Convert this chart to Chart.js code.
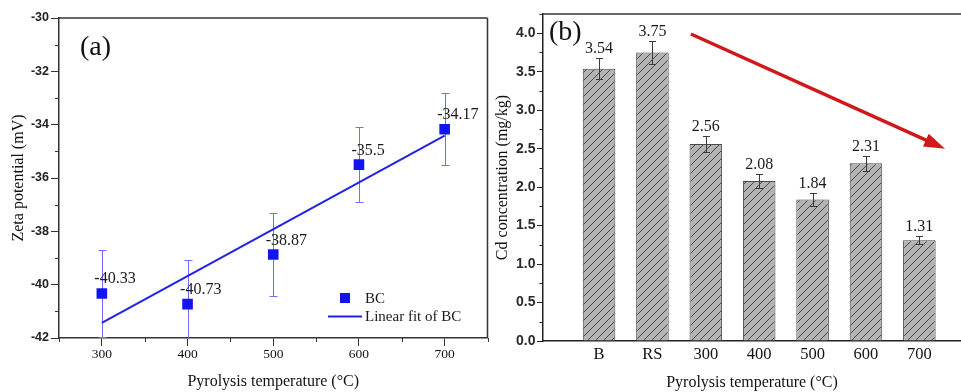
<!DOCTYPE html>
<html>
<head>
<meta charset="utf-8">
<script src="https://cdn.jsdelivr.net/npm/chart.js@4/dist/chart.umd.min.js"></script>
<style>
  html, body { margin: 0; padding: 0; background: #fff; overflow: hidden; }
  #wrap { position: relative; width: 961px; height: 392px; }
  canvas { position: absolute; top: 0; }
  #zeta { left: 0; }
  #cd { left: 480px; }
</style>
</head>
<body>
<div id="wrap">
  <canvas id="zeta" width="495" height="392"></canvas>
  <canvas id="cd" width="481" height="392"></canvas>
</div>
<script>
// ---- Panel (a): zeta potential of biochar (BC) against pyrolysis temperature ----
const temps = [300, 400, 500, 600, 700];
const zeta = [-40.33, -40.73, -38.87, -35.5, -34.17];
const zetaErr = [1.62, 1.64, 1.56, 1.40, 1.35];
const fitTemps = [300, 700];
const fitZeta = [-41.43, -34.41];
const zetaXTicks = [300, 400, 500, 600, 700];
const zetaYTicks = [-42, -40, -38, -36, -34, -32, -30];

// ---- Panel (b): Cd concentration for each treatment ----
const groups = ['B', 'RS', '300', '400', '500', '600', '700'];
const cd = [3.54, 3.75, 2.56, 2.08, 1.84, 2.31, 1.31];
const cdErr = [0.14, 0.15, 0.10, 0.085, 0.08, 0.095, 0.055];
const cdYTicks = [0, 0.5, 1, 1.5, 2, 2.5, 3, 3.5, 4];
// decreasing-trend arrow, in (group index, concentration) units
const trendFrom = [1.72, 3.99];
const trendTo = [6.48, 2.50];

const SERIF = '"Liberation Serif", "Times New Roman", serif';
const SANS = '"Liberation Sans", Arial, sans-serif';

// short minor tick marks between the labelled ones
const minorTicks = {
  id: 'minorTicks',
  afterDraw(chart, args, o) {
    const ctx = chart.ctx;
    ctx.save();
    ctx.strokeStyle = o.color;
    ctx.lineWidth = 1;
    for (const id of Object.keys(o.axes || {})) {
      const sc = chart.scales[id];
      const { step, len } = o.axes[id];
      const n = Math.round((sc.max - sc.min) / step);
      for (let i = 0; i <= n; i++) {
        const v = sc.min + i * step;
        if (sc.ticks.some(t => Math.abs(t.value - v) < step / 10)) continue;
        const p = Math.round(sc.getPixelForValue(v)) + 0.5;
        ctx.beginPath();
        if (sc.isHorizontal()) { ctx.moveTo(p, sc.top); ctx.lineTo(p, sc.top + len); }
        else { ctx.moveTo(sc.right, p); ctx.lineTo(sc.right - len, p); }
        ctx.stroke();
      }
    }
    ctx.restore();
  }
};

function drawErrors(chart, o) {
  const meta = chart.getDatasetMeta(o.dataset);
  const ys = chart.scales[meta.yAxisID];
  const ca = chart.chartArea;
  const ctx = chart.ctx;
  ctx.save();
  ctx.beginPath();
  ctx.rect(ca.left, ca.top, ca.right - ca.left, ca.bottom - ca.top);
  ctx.clip();
  ctx.strokeStyle = o.color;
  ctx.lineWidth = o.width;
  meta.data.forEach((el, i) => {
    const d = chart.data.datasets[o.dataset].data[i];
    const val = typeof d === 'object' ? d.y : d;
    const x = Math.round(el.x) + 0.5;
    const top = Math.round(ys.getPixelForValue(val + o.errors[i])) + 0.5;
    const bot = Math.round(ys.getPixelForValue(val - o.errors[i])) + 0.5;
    ctx.beginPath();
    ctx.moveTo(x, top); ctx.lineTo(x, bot);
    ctx.moveTo(x - o.cap, top); ctx.lineTo(x + o.cap, top);
    ctx.moveTo(x - o.cap, bot); ctx.lineTo(x + o.cap, bot);
    ctx.stroke();
  });
  ctx.restore();
}

const errorBars = {
  id: 'errorBars',
  beforeDatasetsDraw(chart, a, o) { if (o.layer === 'below') drawErrors(chart, o); },
  afterDatasetsDraw(chart, a, o) { if (o.layer !== 'below') drawErrors(chart, o); }
};

// value text next to each mark
const valueLabels = {
  id: 'valueLabels',
  afterDatasetsDraw(chart, a, o) {
    const meta = chart.getDatasetMeta(o.dataset);
    const ys = chart.scales[meta.yAxisID];
    const ctx = chart.ctx;
    ctx.save();
    ctx.font = o.font;
    ctx.fillStyle = o.color;
    ctx.textAlign = o.align;
    ctx.textBaseline = 'alphabetic';
    meta.data.forEach((el, i) => {
      const d = chart.data.datasets[o.dataset].data[i];
      const val = typeof d === 'object' ? d.y : d;
      const anchorY = o.errors ? ys.getPixelForValue(val + o.errors[i]) : el.y;
      ctx.fillText(o.format(val), el.x + o.dx, anchorY + o.dy);
    });
    ctx.restore();
  }
};

// closing lines of the plot frame
const frame = {
  id: 'frame',
  afterDraw(chart, a, o) {
    const { left, right, top, bottom } = chart.chartArea;
    const ctx = chart.ctx;
    ctx.save();
    ctx.strokeStyle = o.color;
    ctx.lineWidth = o.width;
    ctx.beginPath();
    if (o.sides.includes('top')) { ctx.moveTo(left, top); ctx.lineTo(right, top); }
    if (o.sides.includes('right')) { ctx.moveTo(right, top); ctx.lineTo(right, bottom); }
    ctx.stroke();
    ctx.restore();
  }
};

// panel letter
const panelTag = {
  id: 'panelTag',
  afterDraw(chart, a, o) {
    const ctx = chart.ctx;
    ctx.save();
    ctx.font = o.font;
    ctx.fillStyle = '#111';
    ctx.textAlign = 'left';
    ctx.textBaseline = 'middle';
    ctx.fillText(o.text, chart.chartArea.left + o.dx, chart.chartArea.top + o.dy);
    ctx.restore();
  }
};

// legend box inside the plot of panel (a)
const insetLegend = {
  id: 'insetLegend',
  afterDraw(chart, a, o) {
    const ctx = chart.ctx;
    const x0 = chart.chartArea.left + o.dx;
    let y = chart.chartArea.top + o.dy;
    ctx.save();
    ctx.font = o.font;
    ctx.textAlign = 'left';
    ctx.textBaseline = 'middle';
    chart.data.datasets.forEach(ds => {
      if (ds.showLine) {
        ctx.strokeStyle = ds.borderColor;
        ctx.lineWidth = ds.borderWidth;
        ctx.beginPath();
        ctx.moveTo(x0 - 17, y); ctx.lineTo(x0 + 17, y);
        ctx.stroke();
      } else {
        ctx.fillStyle = ds.backgroundColor;
        ctx.fillRect(x0 - 5, y - 5, 10, 10);
      }
      ctx.fillStyle = '#1a1a1a';
      ctx.fillText(ds.label, x0 + o.textGap, y + 1);
      y += o.rowHeight;
    });
    ctx.restore();
  }
};

// red arrow showing the decreasing trend
const trendArrow = {
  id: 'trendArrow',
  afterDatasetsDraw(chart, a, o) {
    const xs = chart.scales.x, ys = chart.scales.y;
    const x1 = xs.getPixelForValue(o.from[0]), y1 = ys.getPixelForValue(o.from[1]);
    const x2 = xs.getPixelForValue(o.to[0]), y2 = ys.getPixelForValue(o.to[1]);
    const ang = Math.atan2(y2 - y1, x2 - x1);
    const c = Math.cos(ang), s = Math.sin(ang);
    const bx = x2 - o.head * c, by = y2 - o.head * s;
    const hw = o.headWidth / 2;
    const ctx = chart.ctx;
    ctx.save();
    ctx.strokeStyle = o.color;
    ctx.fillStyle = o.color;
    ctx.lineWidth = o.width;
    ctx.beginPath();
    ctx.moveTo(x1, y1);
    ctx.lineTo(bx + 2 * c, by + 2 * s);
    ctx.stroke();
    ctx.beginPath();
    ctx.moveTo(x2, y2);
    ctx.lineTo(bx + hw * s, by - hw * c);
    ctx.lineTo(bx - hw * s, by + hw * c);
    ctx.closePath();
    ctx.fill();
    ctx.restore();
  }
};

// ---------------- Panel (a) ----------------
new Chart(document.getElementById('zeta'), {
  type: 'scatter',
  data: {
    datasets: [
      {
        label: 'BC',
        data: temps.map((t, i) => ({ x: t, y: zeta[i] })),
        pointStyle: 'rect',
        pointRadius: 7.5,
        backgroundColor: '#1414ee',
        borderColor: '#1414ee',
        borderWidth: 0
      },
      {
        label: 'Linear fit of BC',
        data: fitTemps.map((t, i) => ({ x: t, y: fitZeta[i] })),
        showLine: true,
        pointRadius: 0,
        borderColor: '#2222e6',
        backgroundColor: '#2222e6',
        borderWidth: 2
      }
    ]
  },
  options: {
    responsive: false,
    animation: false,
    devicePixelRatio: 1,
    events: [],
    layout: { padding: { top: 18, right: 6, left: 0, bottom: 0 } },
    scales: {
      x: {
        type: 'linear', min: 250, max: 750,
        afterBuildTicks: s => { s.ticks = zetaXTicks.map(v => ({ value: v })); },
        afterFit: s => { s.height = 54; s.paddingLeft = 0; s.paddingRight = 0; },
        grid: { drawOnChartArea: false, tickLength: 8, color: '#333', tickColor: '#333' },
        border: { color: '#333', width: 1.5 },
        ticks: { font: { family: SERIF, size: 13.5 }, color: '#111', padding: 0, maxRotation: 0, autoSkip: false,
                 callback: v => String(v) },
        title: { display: true, text: 'Pyrolysis temperature (°C)', font: { family: SERIF, size: 16 }, color: '#111',
                 padding: { top: 0, bottom: 1 } }
      },
      y: {
        type: 'linear', min: -42, max: -30,
        afterBuildTicks: s => { s.ticks = zetaYTicks.map(v => ({ value: v })); },
        afterFit: s => { s.width = 59; s.paddingTop = 0; s.paddingBottom = 0; },
        grid: { drawOnChartArea: false, tickLength: 8, color: '#333', tickColor: '#333' },
        border: { color: '#333', width: 1.5 },
        ticks: { font: { family: SANS, size: 12.5, weight: 'bold' }, color: '#222', padding: 2, autoSkip: false,
                 callback: v => String(v) },
        title: { display: true, text: 'Zeta potential (mV)', font: { family: SERIF, size: 16 }, color: '#111',
                 padding: { top: 9, bottom: 0 } }
      }
    },
    plugins: {
      legend: { display: false },
      tooltip: { enabled: false },
      minorTicks: { color: '#333', axes: { x: { step: 50, len: 4 }, y: { step: 1, len: 4 } } },
      errorBars: { dataset: 0, errors: zetaErr, color: '#6e6eff', width: 1, cap: 4, layer: 'below' },
      valueLabels: { dataset: 0, font: '16px ' + SERIF, color: '#1a1a1a', align: 'left', dx: -7.5, dy: -10,
                     format: v => String(v) },
      frame: { color: '#333', width: 1.5, sides: ['top', 'right'] },
      panelTag: { text: '(a)', font: '28px ' + SERIF, dx: 21, dy: 30 },
      insetLegend: { font: '15px ' + SERIF, dx: 286, dy: 280, rowHeight: 18.5, textGap: 20 }
    }
  },
  plugins: [minorTicks, errorBars, valueLabels, frame, panelTag, insetLegend]
});

// ---------------- Panel (b) ----------------
const cdCanvas = document.getElementById('cd');
function hatchPattern(ctx) {
  const t = document.createElement('canvas');
  t.width = 8; t.height = 8;
  const g = t.getContext('2d');
  g.fillStyle = '#b3b3b3';
  g.fillRect(0, 0, 8, 8);
  g.strokeStyle = '#3d3d3d';
  g.lineWidth = 0.9;
  g.beginPath();
  g.moveTo(-1, 9); g.lineTo(9, -1);
  g.moveTo(-1, 1); g.lineTo(1, -1);
  g.moveTo(7, 9); g.lineTo(9, 7);
  g.stroke();
  return ctx.createPattern(t, 'repeat');
}

new Chart(cdCanvas, {
  type: 'bar',
  data: {
    datasets: [{
      label: 'Cd',
      data: groups.map((g, i) => ({ x: i, y: cd[i] })),
      backgroundColor: hatchPattern(cdCanvas.getContext('2d')),
      borderColor: '#4a4a4a',
      borderWidth: 1,
      barPercentage: 0.61,
      categoryPercentage: 1
    }]
  },
  options: {
    responsive: false,
    animation: false,
    devicePixelRatio: 1,
    events: [],
    layout: { padding: { top: 14, right: 0, left: 0, bottom: 0 } },
    scales: {
      x: {
        type: 'linear', min: -1.05, max: 6.78, offset: false,
        afterBuildTicks: s => { s.ticks = groups.map((g, i) => ({ value: i })); },
        afterFit: s => { s.height = 51; s.paddingLeft = 0; s.paddingRight = 0; },
        grid: { display: false, drawTicks: false, offset: false },
        border: { color: '#222', width: 1.5 },
        ticks: { font: { family: SERIF, size: 16.5 }, color: '#111', padding: 4, maxRotation: 0, autoSkip: false,
                 callback: v => groups[Math.round(v)] },
        title: { display: true, text: 'Pyrolysis temperature (°C)', font: { family: SERIF, size: 16 }, color: '#111',
                 padding: { top: 0, bottom: 0 } }
      },
      y: {
        type: 'linear', min: 0, max: 4.25,
        afterBuildTicks: s => { s.ticks = cdYTicks.map(v => ({ value: v })); },
        afterFit: s => { s.width = 63; s.paddingTop = 0; s.paddingBottom = 0; },
        grid: { drawOnChartArea: false, tickLength: 6, color: '#222', tickColor: '#222' },
        border: { color: '#222', width: 1.5 },
        ticks: { font: { family: SANS, size: 14, weight: 'bold' }, color: '#2a2a2a', padding: 1.5, autoSkip: false,
                 callback: v => v.toFixed(1) },
        title: { display: true, text: 'Cd concentration (mg/kg)', font: { family: SERIF, size: 16 }, color: '#111',
                 padding: { top: 13, bottom: 0 } }
      }
    },
    plugins: {
      legend: { display: false },
      tooltip: { enabled: false },
      minorTicks: { color: '#222', axes: { y: { step: 0.25, len: 3.5 } } },
      errorBars: { dataset: 0, errors: cdErr, color: '#3a3a3a', width: 1, cap: 3.5, layer: 'above' },
      valueLabels: { dataset: 0, errors: cdErr, font: '16px ' + SERIF, color: '#1a1a1a', align: 'center', dx: 0, dy: -5,
                     format: v => v.toFixed(2) },
      frame: { color: '#333', width: 1.5, sides: ['top'] },
      panelTag: { text: '(b)', font: '28px ' + SERIF, dx: 6, dy: 19 },
      trendArrow: { from: trendFrom, to: trendTo, color: '#d0181c', width: 3.5, head: 21, headWidth: 14 }
    }
  },
  plugins: [minorTicks, errorBars, valueLabels, frame, panelTag, trendArrow]
});
</script>
</body>
</html>
